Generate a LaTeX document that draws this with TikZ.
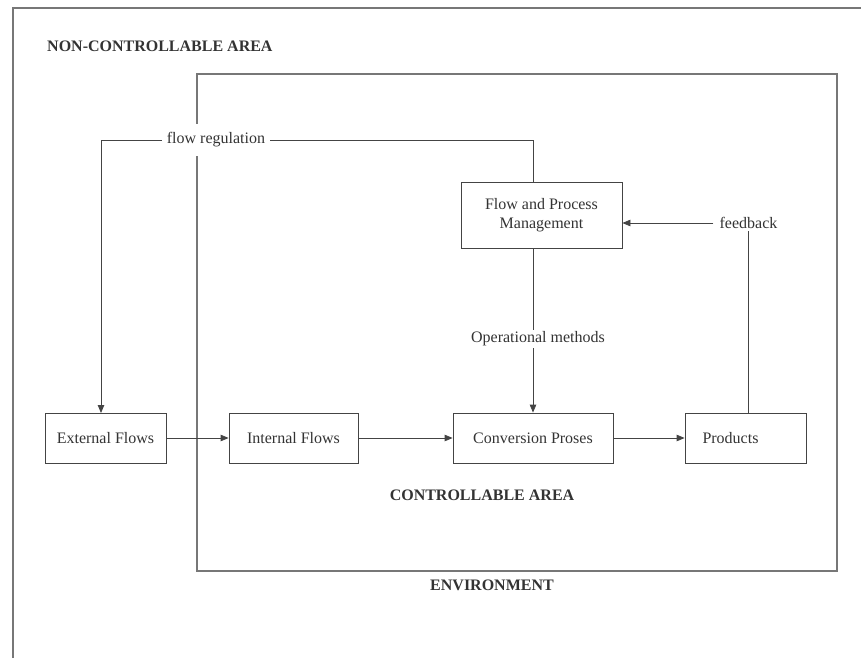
\documentclass[tikz,border=0pt]{standalone}
\usepackage{fontspec}
\setmainfont{Liberation Serif}
\usetikzlibrary{arrows.meta}
\definecolor{txt}{HTML}{333333}
\definecolor{ln}{HTML}{444444}
\definecolor{frame}{HTML}{777777}
\begin{document}
\begin{tikzpicture}[x=1pt,y=-1pt,
  every node/.style={font=\fontsize{16}{19}\selectfont, text=txt},
  boxnode/.style={draw=ln, line width=0.8pt, rectangle, minimum height=50pt, inner sep=0pt},
  lbl/.style={fill=white, inner sep=3pt},
  hdr/.style={font=\fontsize{16}{19}\selectfont\bfseries, inner sep=0pt},
  conn/.style={draw=ln, line width=0.8pt},
  arr/.style={conn, -{Triangle[length=8pt,width=6.5pt]}}]
\useasboundingbox (0,0) rectangle (861,658);
% outer frame (top and left edges)
\draw[frame, line width=1.2pt] (13,658) -- (13,8) -- (861,8);
% inner controllable area
\draw[frame, line width=1.3pt] (197,74) rectangle (837,571);
% headers
\node[hdr, anchor=west] (nca) at (47,46) {NON-CONTROLLABLE AREA};
\node[hdr] (ca) at (482,495) {CONTROLLABLE AREA};
\node[hdr] (env) at (492,585) {ENVIRONMENT};
% boxes
\node[boxnode, minimum width=121pt] (ext) at (105.5,438) {External Flows};
\node[boxnode, minimum width=129pt] (int) at (293.5,438) {Internal Flows};
\node[boxnode, minimum width=160pt] (conv) at (533,438) {Conversion Proses};
\node[boxnode, minimum width=121pt] (prod) at (745.5,438) {Products\rule{30pt}{0pt}};
\node[boxnode, minimum width=161pt, minimum height=66pt, align=center] (fpm) at (541.5,215)
  {Flow and Process\\Management};
% labels
\node[lbl, inner xsep=5pt, inner ysep=9pt] (freg) at (216,140) {flow regulation};
\node[lbl, inner sep=2pt] (opm) at (538,339) {Operational methods};
\node[lbl, inner xsep=6pt, inner ysep=2pt] (fb) at (748.5,223) {feedback};
\coordinate (extin) at (101,413);
% connectors
\draw[conn] (freg.east) -| (conv.north |- fpm.north);
\draw[arr] (freg.west) -| (extin);
\draw[conn] (conv.north |- fpm.south) -- (conv.north |- opm.north);
\draw[arr] (conv.north |- opm.south) -- (conv.north);
\draw[arr] (fb.west) -- (fpm.east |- fb.west);
\draw[conn] (prod.north -| fb.south) -- (fb.south);
\draw[arr] (ext.east) -- (int.west);
\draw[arr] (int.east) -- (conv.west);
\draw[arr] (conv.east) -- (prod.west);
\end{tikzpicture}
\end{document}
